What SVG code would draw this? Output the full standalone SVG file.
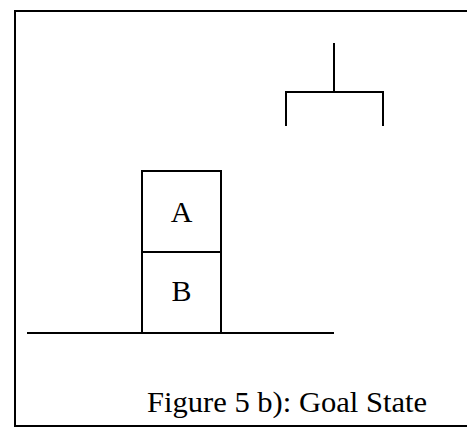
<svg xmlns="http://www.w3.org/2000/svg" width="467" height="427" viewBox="0 0 467 427">
<style>
.ln{stroke:#000;stroke-width:2;fill:none}
.t{font-family:"Liberation Serif","Times New Roman",serif;font-size:30px;fill:#000}
</style>
<rect width="467" height="427" fill="#fff"/>
<g id="frame">
<polyline class="ln" points="467,11 15,11 15,426 467,426"/>
</g>
<g id="ground"><line class="ln" x1="27" y1="333" x2="334" y2="333"/></g>
<g id="blockA"><rect class="ln" x="142" y="171" width="79" height="81"/><text class="t" x="181.5" y="222" text-anchor="middle">A</text></g>
<g id="blockB"><rect class="ln" x="142" y="252" width="79" height="81"/><text class="t" x="181.5" y="301" text-anchor="middle">B</text></g>
<g id="hand"><polyline class="ln" points="334,43 334,92"/><polyline class="ln" points="286,126 286,92 383,92 383,126"/></g>
<g id="caption"><text class="t" x="147" y="412" textLength="280" lengthAdjust="spacingAndGlyphs">Figure 5 b): Goal State</text></g>
</svg>
